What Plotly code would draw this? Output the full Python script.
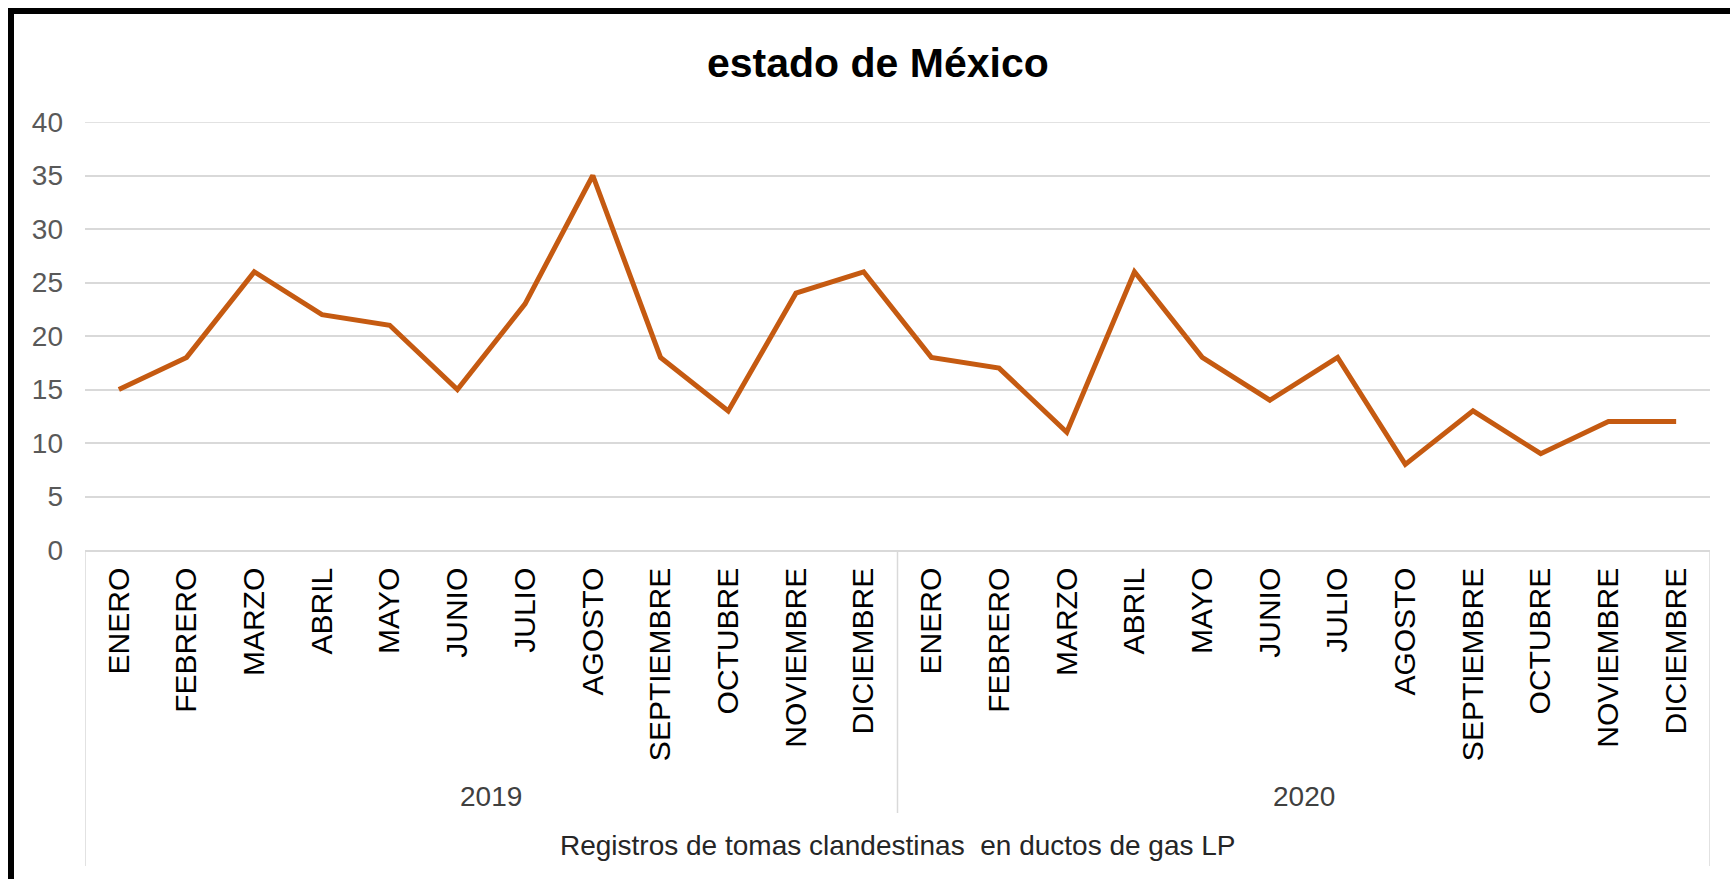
import plotly.graph_objects as go

months = ["ENERO", "FEBRERO", "MARZO", "ABRIL", "MAYO", "JUNIO", "JULIO",
          "AGOSTO", "SEPTIEMBRE", "OCTUBRE", "NOVIEMBRE", "DICIEMBRE"]
years = ["2019", "2020"]
values_2019 = [15, 18, 26, 22, 21, 15, 23, 35, 18, 13, 24, 26]
values_2020 = [18, 17, 11, 26, 18, 14, 18, 8, 13, 9, 12, 12]

title_text = "estado de México"
axis_title = "Registros de tomas clandestinas  en ductos de gas LP"

labels = months + months
values = values_2019 + values_2020
xs = list(range(len(values)))

W, H = 1730, 879
L, R, T, B = 85, 20, 122, 329
PH = H - T - B
PW = W - L - R

def py(p):
    return (H - B - p) / PH

def px(p):
    return (p - L) / PW

fig = go.Figure()
fig.add_trace(go.Scatter(x=xs, y=values, mode="lines",
                         line=dict(color="#C55A11", width=5),
                         hoverinfo="skip", showlegend=False))

font = "Liberation Sans, Arial, sans-serif"
grid = "#d9d9d9"

shapes = []
# top gridline (plotly drops the gridline at the range edge)
shapes.append(dict(type="line", xref="paper", yref="y", x0=0, x1=1, y0=40, y1=40,
                   line=dict(color=grid, width=1.5), layer="below"))
# category axis box lines
n = len(values)
shapes.append(dict(type="line", xref="x", yref="paper", x0=-0.5, x1=-0.5,
                   y0=0, y1=py(866), line=dict(color=grid, width=1.5)))
shapes.append(dict(type="line", xref="x", yref="paper", x0=n - 0.5, x1=n - 0.5,
                   y0=0, y1=py(866), line=dict(color=grid, width=1.5)))
for i in range(1, len(years)):
    xd = i * len(months) - 0.5
    shapes.append(dict(type="line", xref="x", yref="paper", x0=xd, x1=xd,
                       y0=0, y1=py(813), line=dict(color=grid, width=1.5)))
# outer black frame (top and left visible)
shapes.append(dict(type="rect", xref="paper", yref="paper",
                   x0=px(11), x1=px(W + 40), y0=py(H + 40), y1=py(11),
                   line=dict(color="black", width=6), fillcolor="rgba(0,0,0,0)"))

annotations = []
for i, yr in enumerate(years):
    xc = i * len(months) + (len(months) - 1) / 2
    annotations.append(dict(text=yr, xref="x", yref="paper", x=xc, y=py(796),
                            xanchor="center", yanchor="middle", showarrow=False,
                            font=dict(family=font, size=28, color="#404040")))
annotations.append(dict(text=axis_title, xref="paper", yref="paper", x=0.5, y=py(846),
                        xanchor="center", yanchor="middle", showarrow=False,
                        font=dict(family=font, size=28, color="#262626")))
annotations.append(dict(text="<b>" + title_text + "</b>", xref="paper", yref="paper",
                        x=px(878), y=py(63), xanchor="center", yanchor="middle",
                        showarrow=False,
                        font=dict(family=font, size=41, color="#000000")))

fig.update_layout(
    width=W, height=H,
    margin=dict(l=L, r=R, t=T, b=B, pad=0),
    paper_bgcolor="white", plot_bgcolor="white",
    shapes=shapes, annotations=annotations,
    xaxis=dict(range=[-0.5, n - 0.5], tickmode="array", tickvals=xs, ticktext=labels,
               tickangle=-90, showgrid=False, zeroline=False, showline=True,
               linecolor=grid, linewidth=1.5, ticks="",
               ticklabelstandoff=4,
               tickfont=dict(family=font, size=30, color="#000000")),
    yaxis=dict(range=[0, 40], dtick=5, showgrid=True, gridcolor=grid,
               gridwidth=1.5, zeroline=False, showline=False, ticks="",
               ticklabelstandoff=21,
               tickfont=dict(family=font, size=28, color="#595959")),
)

fig.write_html("out.html", config={"displayModeBar": False},
               post_script="document.body.style.margin='0';")
